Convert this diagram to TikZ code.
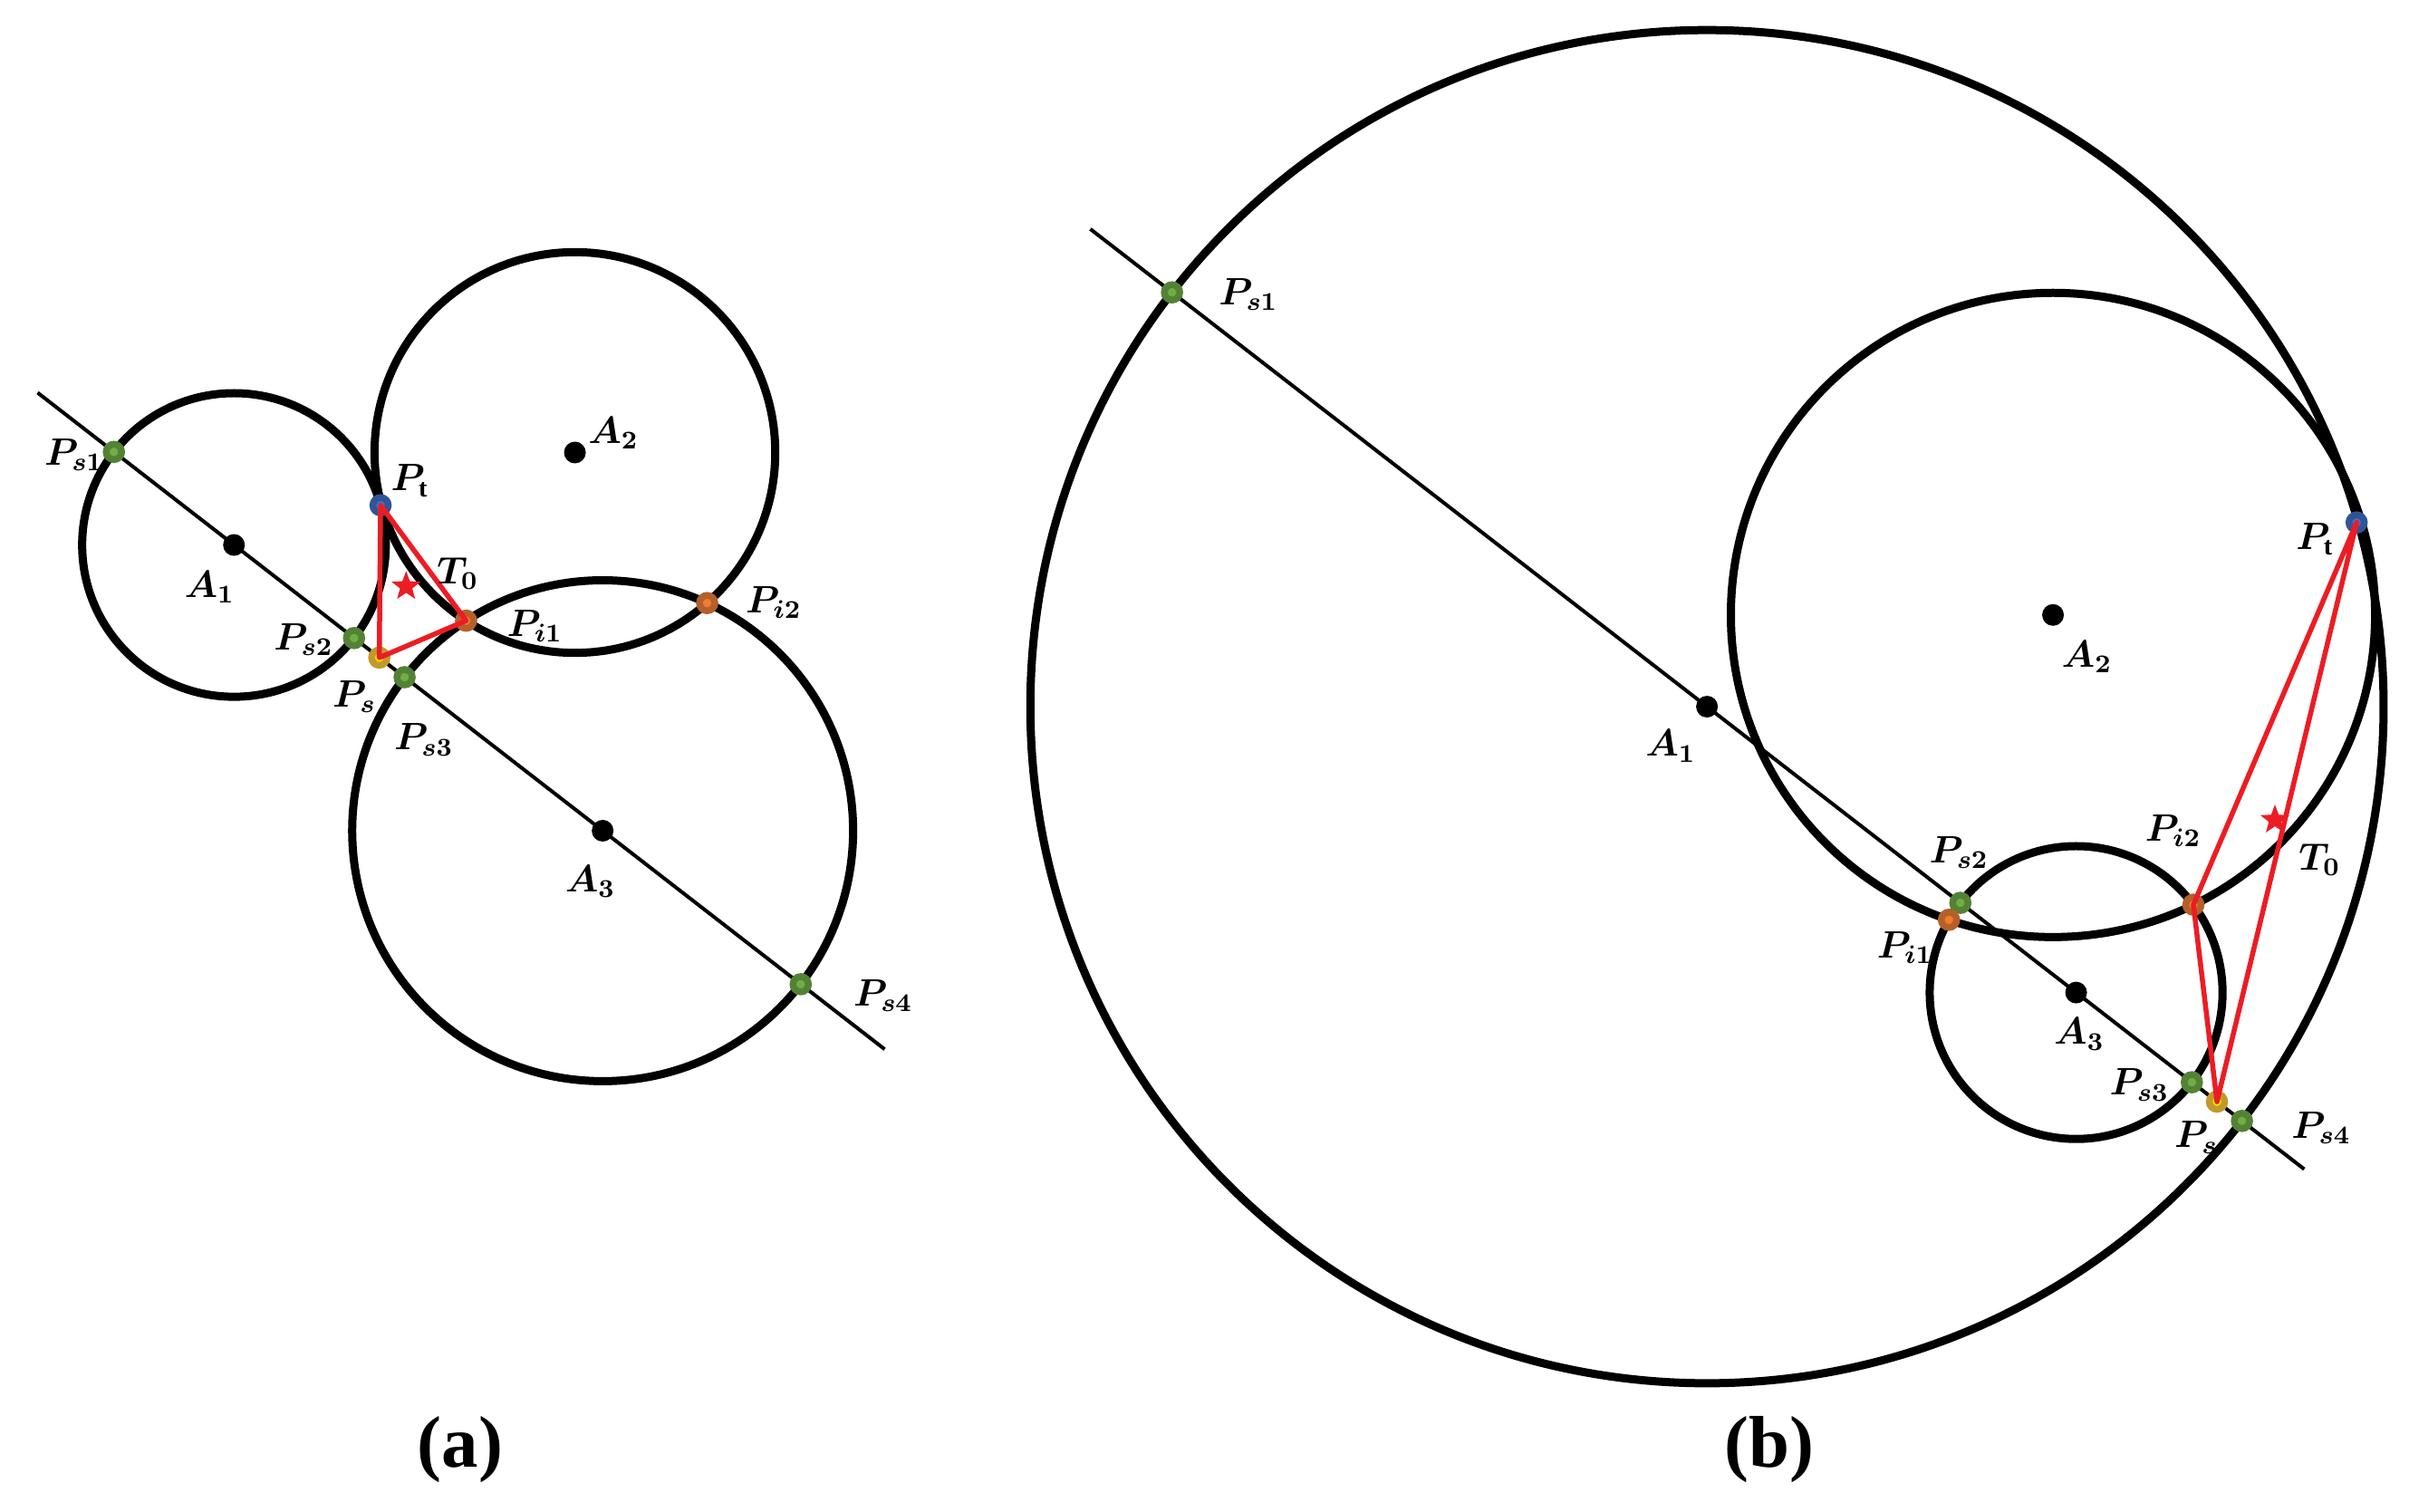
\documentclass[tikz,border=0pt]{standalone}
\usepackage{fontspec}
\setmainfont{Liberation Serif}
\usetikzlibrary{shapes.geometric}
\definecolor{gring}{HTML}{548235}
\definecolor{gfill}{HTML}{70AD47}
\definecolor{bring}{HTML}{2F5597}
\definecolor{bfill}{HTML}{4472C4}
\definecolor{oring}{HTML}{B5602A}
\definecolor{ofill}{HTML}{ED7D31}
\definecolor{yring}{HTML}{C29A2C}
\definecolor{yfill}{HTML}{FFE600}
\definecolor{redl}{HTML}{EC1C24}
\begin{document}
\begin{tikzpicture}[x=0.017012cm,y=-0.017012cm,
 bigc/.style={line width=0.09cm,black},
 axisl/.style={line width=0.04cm,black},
 redline/.style={line width=0.055cm,redl,line join=round},
 cdot/.style={circle,fill=black,inner sep=0,minimum size=0.24cm},
 mk/.style={circle,inner sep=0,minimum size=0.17cm,line width=0.075cm},
 gmk/.style={mk,draw=gring,fill=gfill},
 bmk/.style={mk,draw=bring,fill=bfill},
 omk/.style={mk,draw=oring,fill=ofill},
 ymk/.style={mk,draw=yring,fill=yfill},
 lbl/.style={inner sep=0,font=\fontsize{11.5}{13}\selectfont\boldmath},
 captext/.style={inner sep=0,font=\fontsize{23}{27}\selectfont\bfseries},
 starm/.style={star,star points=5,star point ratio=2.4,fill=redl,inner sep=0,minimum size=0.34cm}]
\useasboundingbox (0,0) rectangle (1563,981);

% ---------------- panel (a) ----------------
\coordinate (aA1) at (151.8,353.6);
\coordinate (aA2) at (373,293.6);
\coordinate (aA3) at (391,539);
\coordinate (aL1) at (24.4,254.8);
\coordinate (aL2) at (574,680.8);
\draw[bigc] (aA1) circle[radius=98.5];
\draw[bigc] (aA2) circle[radius=130];
\draw[bigc] (aA3) circle[radius=162.5];
\draw[axisl] (aL1) -- (aL2);
\node[cdot] (aC1) at (aA1) {};
\node[cdot] (aC2) at (aA2) {};
\node[cdot] (aC3) at (aA3) {};
\node[gmk] (aPs1) at (73.9,293.2) {};
\node[gmk] (aPs2) at (229.7,414.0) {};
\node[gmk] (aPs3) at (262.5,439.4) {};
\node[gmk] (aPs4) at (519.5,638.6) {};
\node[ymk] (aPs) at (246.1,426.7) {};
\node[bmk] (aPt) at (246.9,327.8) {};
\node[omk] (aPi1) at (302.4,402.7) {};
\node[omk] (aPi2) at (458.8,391.3) {};
\draw[redline] (aPt.center) -- (aPi1.center) -- (aPs.center) -- cycle;
\node[starm] (aStar) at (263.5,380.5) {};
\node[lbl] (laPs1) at (48,295) {$P_{s1}$};
\node[lbl] (laPt) at (266,312) {$P_{\mathrm{t}}$};
\node[lbl] (laA1) at (136,381) {$A_1$};
\node[lbl] (laA2) at (398,281) {$A_2$};
\node[lbl] (laT0) at (297,372) {$T_0$};
\node[lbl] (laPi1) at (347,406) {$P_{i1}$};
\node[lbl] (laPi2) at (502,391) {$P_{i2}$};
\node[lbl] (laPs2) at (197,415) {$P_{s2}$};
\node[lbl] (laPs) at (230,452) {$P_s$};
\node[lbl] (laPs3) at (275,480) {$P_{s3}$};
\node[lbl] (laA3) at (383,572) {$A_3$};
\node[lbl] (laPs4) at (573,646) {$P_{s4}$};
\node[captext] (capa) at (298.6,940.5) {(a)};

% ---------------- panel (b) ----------------
\coordinate (bA1) at (1107.5,458.5);
\coordinate (bA2) at (1332,399);
\coordinate (bA3) at (1347,644);
\coordinate (bL1) at (707.4,148.6);
\coordinate (bL2) at (1495,758.6);
\draw[bigc] (bA1) circle[radius=439];
\draw[bigc] (bA2) circle[radius=209];
\draw[bigc] (bA3) circle[radius=95];
\draw[axisl] (bL1) -- (bL2);
\node[cdot] (bC1) at (bA1) {};
\node[cdot] (bC2) at (bA2) {};
\node[cdot] (bC3) at (bA3) {};
\node[gmk] (bPs1) at (760.4,189.7) {};
\node[gmk] (bPs2) at (1271.9,585.8) {};
\node[gmk] (bPs3) at (1422.1,702.2) {};
\node[gmk] (bPs4) at (1454.6,727.3) {};
\node[ymk] (bPs) at (1438.4,714.8) {};
\node[bmk] (bPt) at (1529,339) {};
\node[omk] (bPi1) at (1264.5,596.8) {};
\node[omk] (bPi2) at (1423.1,587.0) {};
\draw[redline] (bPt.center) -- (bPi2.center) -- (bPs.center) -- cycle;
\node[starm] (bStar) at (1476,532) {};
\node[lbl] (lbPs1) at (810,191) {$P_{s1}$};
\node[lbl] (lbA1) at (1084,484) {$A_1$};
\node[lbl] (lbA2) at (1354,426) {$A_2$};
\node[lbl] (lbPt) at (1502,350) {$P_{\mathrm{t}}$};
\node[lbl] (lbPi2) at (1410,539) {$P_{i2}$};
\node[lbl] (lbT0) at (1505,558) {$T_0$};
\node[lbl] (lbPs2) at (1271,553) {$P_{s2}$};
\node[lbl] (lbPi1) at (1236,615) {$P_{i1}$};
\node[lbl] (lbA3) at (1349,671) {$A_3$};
\node[lbl] (lbPs3) at (1388,704) {$P_{s3}$};
\node[lbl] (lbPs) at (1425,738) {$P_s$};
\node[lbl] (lbPs4) at (1506,732) {$P_{s4}$};
\node[captext] (capb) at (1148,940.5) {(b)};
\end{tikzpicture}
\end{document}
